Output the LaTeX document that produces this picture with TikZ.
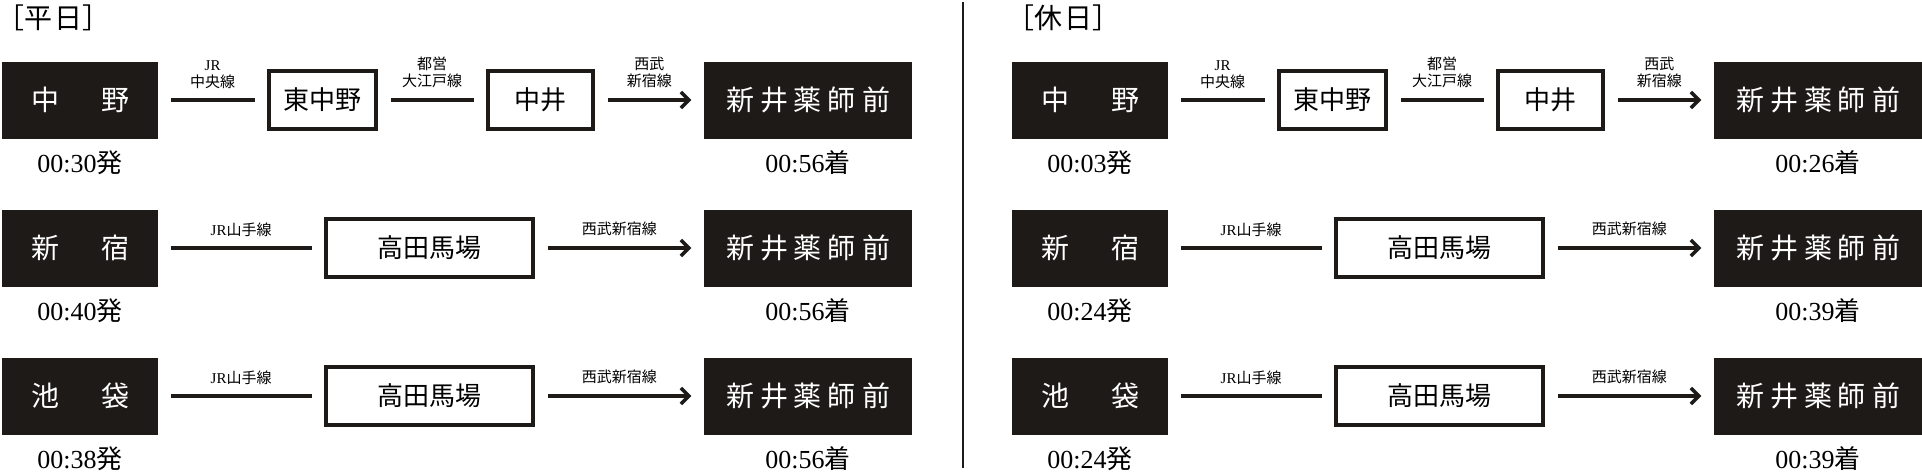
\documentclass[tikz,border=0pt]{standalone}
\usepackage{fontspec}
\setmainfont{Liberation Serif}
\newfontfamily\cjk{Noto Sans CJK JP}
\usetikzlibrary{arrows.meta,positioning}
\definecolor{inkblack}{RGB}{30,26,24}
\newcommand\araitext{新\kern6pt 井\kern6pt 薬\kern6pt 師\kern6pt 前}

\begin{document}
\begin{tikzpicture}[
    x=1pt, y=-1pt,
    stn/.style={
        fill=inkblack,
        text=white,
        minimum width=156pt,
        minimum height=77pt,
        inner sep=0pt,
        font=\cjk\fontsize{28}{30}\selectfont
    },
    dest/.style={stn, minimum width=208pt},
    via/.style={
        draw=inkblack,
        line width=4pt,
        fill=white,
        minimum height=58pt,
        inner sep=0pt,
        font=\cjk\fontsize{26}{28}\selectfont
    },
    link/.style={draw=inkblack, line width=3.5pt, shorten <=12.5pt, shorten >=12.5pt},
    arrowlink/.style={link, -{Straight Barb[length=8pt,width=16pt]}},
    linelbl/.style={above=10pt, inner sep=0pt, align=center, font=\cjk\fontsize{15}{17}\selectfont},
    timelbl/.style={inner sep=0pt, font=\fontsize{26}{28}\selectfont},
    heading/.style={anchor=west, inner sep=0pt, font=\cjk\fontsize{28}{30}\selectfont}
]
\useasboundingbox (0,0) rectangle (1922,474);

% divider
\coordinate (divTop) at (963,2);
\coordinate (divBot) at (963,468);
\draw[inkblack, line width=2pt] (divTop) -- (divBot);

% weekday
\node[heading] (wdTitle) at (-4,17.5) {［平\kern2pt 日］};

\node[stn] (wNakano) at (80,100) {中\hspace{42pt}野};
\node[via, minimum width=107pt] (wHigashi) at (322.5,100) {東中野};
\node[via, minimum width=105pt] (wNakai) at (540.5,100) {中井};
\node[dest] (wArai1) at (808,100) {\araitext};
\node[timelbl, below=12pt of wNakano] (wDep1) {00:30{\cjk 発}};
\node[timelbl, below=12pt of wArai1] (wArr1) {00:56{\cjk 着}};
\draw[link] (wNakano) -- node[linelbl] {{\rmfamily JR}\\中央線} (wHigashi);
\draw[link] (wHigashi) -- node[linelbl] {都営\\大江戸線} (wNakai);
\draw[arrowlink] (wNakai) -- node[linelbl] {西武\\新宿線} (wArai1);

\node[stn] (wShinjuku) at (80,248) {新\hspace{42pt}宿};
\node[via, minimum width=207pt] (wTakada2) at (429.5,248) {高田馬場};
\node[dest] (wArai2) at (808,248) {\araitext};
\node[timelbl, below=12pt of wShinjuku] (wDep2) {00:40{\cjk 発}};
\node[timelbl, below=12pt of wArai2] (wArr2) {00:56{\cjk 着}};
\draw[link] (wShinjuku) -- node[linelbl] {{\rmfamily JR}山手線} (wTakada2);
\draw[arrowlink] (wTakada2) -- node[linelbl] {西武新宿線} (wArai2);

\node[stn] (wIkebukuro) at (80,396) {池\hspace{42pt}袋};
\node[via, minimum width=207pt] (wTakada3) at (429.5,396) {高田馬場};
\node[dest] (wArai3) at (808,396) {\araitext};
\node[timelbl, below=12pt of wIkebukuro] (wDep3) {00:38{\cjk 発}};
\node[timelbl, below=12pt of wArai3] (wArr3) {00:56{\cjk 着}};
\draw[link] (wIkebukuro) -- node[linelbl] {{\rmfamily JR}山手線} (wTakada3);
\draw[arrowlink] (wTakada3) -- node[linelbl] {西武新宿線} (wArai3);

% holiday
\node[heading] (hdTitle) at (1006,17.5) {［休\kern2pt 日］};

\node[stn] (hNakano) at (1090,100) {中\hspace{42pt}野};
\node[via, minimum width=107pt] (hHigashi) at (1332.5,100) {東中野};
\node[via, minimum width=105pt] (hNakai) at (1550.5,100) {中井};
\node[dest] (hArai1) at (1818,100) {\araitext};
\node[timelbl, below=12pt of hNakano] (hDep1) {00:03{\cjk 発}};
\node[timelbl, below=12pt of hArai1] (hArr1) {00:26{\cjk 着}};
\draw[link] (hNakano) -- node[linelbl] {{\rmfamily JR}\\中央線} (hHigashi);
\draw[link] (hHigashi) -- node[linelbl] {都営\\大江戸線} (hNakai);
\draw[arrowlink] (hNakai) -- node[linelbl] {西武\\新宿線} (hArai1);

\node[stn] (hShinjuku) at (1090,248) {新\hspace{42pt}宿};
\node[via, minimum width=207pt] (hTakada2) at (1439.5,248) {高田馬場};
\node[dest] (hArai2) at (1818,248) {\araitext};
\node[timelbl, below=12pt of hShinjuku] (hDep2) {00:24{\cjk 発}};
\node[timelbl, below=12pt of hArai2] (hArr2) {00:39{\cjk 着}};
\draw[link] (hShinjuku) -- node[linelbl] {{\rmfamily JR}山手線} (hTakada2);
\draw[arrowlink] (hTakada2) -- node[linelbl] {西武新宿線} (hArai2);

\node[stn] (hIkebukuro) at (1090,396) {池\hspace{42pt}袋};
\node[via, minimum width=207pt] (hTakada3) at (1439.5,396) {高田馬場};
\node[dest] (hArai3) at (1818,396) {\araitext};
\node[timelbl, below=12pt of hIkebukuro] (hDep3) {00:24{\cjk 発}};
\node[timelbl, below=12pt of hArai3] (hArr3) {00:39{\cjk 着}};
\draw[link] (hIkebukuro) -- node[linelbl] {{\rmfamily JR}山手線} (hTakada3);
\draw[arrowlink] (hTakada3) -- node[linelbl] {西武新宿線} (hArai3);

\end{tikzpicture}
\end{document}
